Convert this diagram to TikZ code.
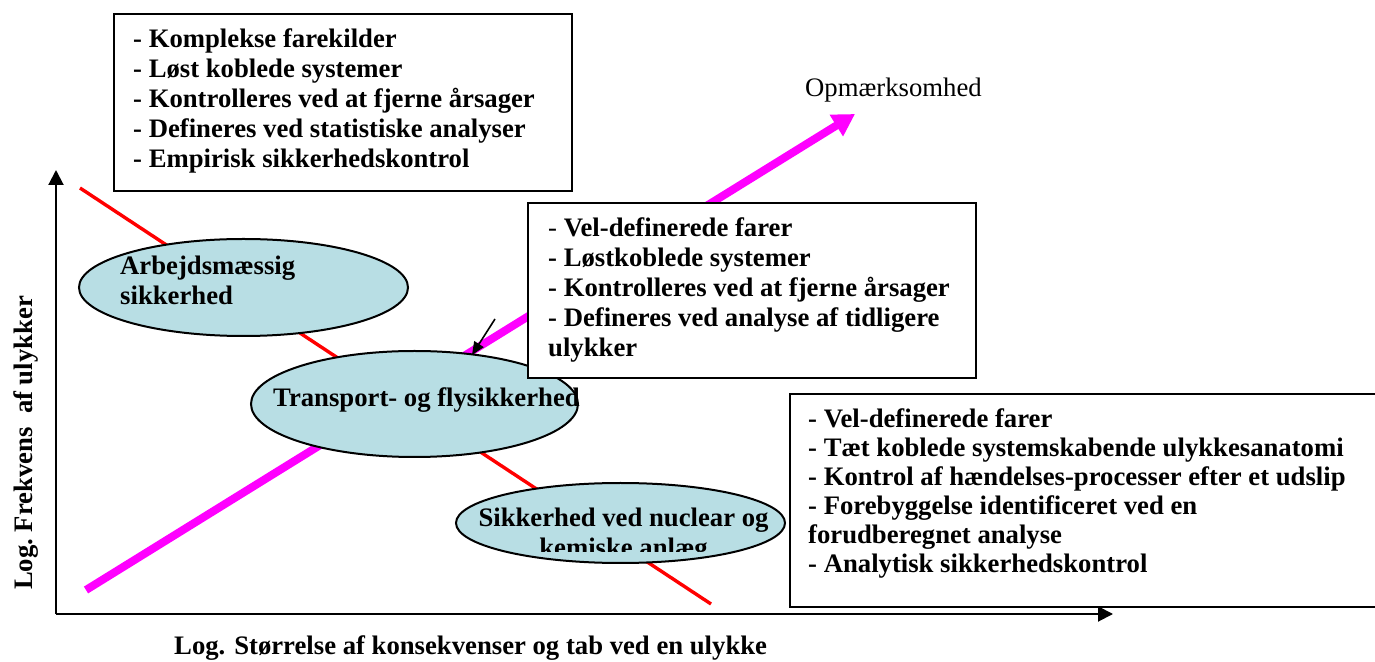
\documentclass[tikz,border=0pt]{standalone}
\usepackage{fontspec}
\setmainfont{Liberation Serif}
\usetikzlibrary{arrows.meta,shapes.geometric}

\definecolor{ovalfill}{RGB}{184,222,228}
\definecolor{attn}{RGB}{255,0,255}
\definecolor{riskline}{RGB}{255,0,0}

\newcommand{\lines}[1]{\begin{tabular}[t]{@{}l@{}}#1\end{tabular}}
\newcommand{\clines}[1]{\begin{tabular}[t]{@{}c@{}}#1\end{tabular}}

\begin{document}
\begin{tikzpicture}[x=1pt,y=1pt,
  txt/.style={inner sep=0pt, anchor=base west,
    font=\fontsize{26.7}{30}\selectfont\bfseries},
  infobox/.style={draw=black, line width=2.2pt, fill=white,
    rectangle, inner sep=0pt, anchor=north west},
  oval/.style={draw=black, line width=2pt, fill=ovalfill,
    ellipse, inner sep=0pt},
  axis/.style={line width=2pt, -{Triangle[length=15pt,width=15pt]}},
]
\useasboundingbox (0,0) rectangle (1375,661);

% axes
\coordinate (origin) at (56,47);
\coordinate (ytop) at (56,491);
\coordinate (xend) at (1113,47);
\draw[axis] (origin) -- (ytop);
\draw[axis] (origin) -- (xend);

% falling red line
\coordinate (redA) at (80,473);
\coordinate (redB) at (711,57);
\draw[riskline, line width=3.4pt] (redA) -- (redB);

% rising attention arrow
\coordinate (attA) at (86,71);
\coordinate (attB) at (855,547);
\draw[attn, line width=8pt, -{Triangle[length=22pt,width=24pt]}] (attA) -- (attB);

% ovals
\node[oval, minimum width=329pt, minimum height=97pt] (work) at (243.5,373.5) {};
\node[oval, minimum width=327pt, minimum height=106pt] (transport) at (414.5,257) {};
\node[oval, minimum width=329pt, minimum height=80pt] (nuclear) at (620.5,138) {};

\node[txt] (workText) at (120,386) {\lines{Arbejdsmæssig\\ sikkerhed}};
\node[txt] (transportText) at (273,254) {Transport- og flysikkerhed};
\begin{scope}
  \clip (440,109) rectangle (800,170);
  \node[txt, anchor=base] (nuclearText) at (623.5,134)
    {\clines{Sikkerhed ved nuclear og\\ kemiske anlæg}};
\end{scope}

% small pointer
\coordinate (ptrA) at (495,342);
\coordinate (ptrB) at (472,306);
\draw[line width=1.6pt, -{Triangle[length=13pt,width=11pt]}] (ptrA) -- (ptrB);

% info boxes
\node[infobox, minimum width=458pt, minimum height=177pt] (hazards) at (113,648) {};
\node[txt] (hazardsText) at (133,613) {\lines{%
  - Komplekse farekilder\\
  - Løst koblede systemer\\
  - Kontrolleres ved at fjerne årsager\\
  - Defineres ved statistiske analyser\\
  - Empirisk sikkerhedskontrol}};

\node[infobox, minimum width=448pt, minimum height=175pt] (defined) at (527,459) {};
\node[txt] (definedText) at (548,424) {\lines{%
  {\mdseries -} Vel-definerede farer\\
  - Løstkoblede systemer\\
  - Kontrolleres ved at fjerne årsager\\
  - Defineres ved analyse af tidligere\\
  ulykker}};

\node[infobox, minimum width=595pt, minimum height=213pt] (coupled) at (789,268) {};
\node[txt, font=\fontsize{26.7}{29}\selectfont\bfseries] (coupledText) at (808,233) {\lines{%
  - Vel-definerede farer\\
  - Tæt koblede systemskabende ulykkesanatomi\\
  - Kontrol af hændelses-processer efter et udslip\\
  - Forebyggelse identificeret ved en\\
  forudberegnet analyse\\
  - Analytisk sikkerhedskontrol}};

% labels
\node[txt, font=\fontsize{26.7}{30}\selectfont] (attnLabel) at (805,564) {Opmærksomhed};
\node[txt, anchor=base, rotate=90] (yLabel) at (32,218) {Log.\ Frekvens\ \ af ulykker};
\node[txt] (xLabel) at (174,7) {Log. Størrelse af konsekvenser og tab ved en ulykke};
\end{tikzpicture}
\end{document}
